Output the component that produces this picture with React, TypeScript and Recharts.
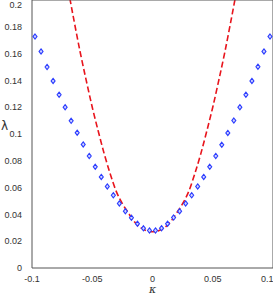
import React from 'react';
import { ComposedChart, Line, Scatter, XAxis, YAxis, Label } from 'recharts';

// blue markers: kappa / lambda
const kappaPoints = [
  -0.0975, -0.0925, -0.0875, -0.0825, -0.0775, -0.0725, -0.0675, -0.0625, -0.0575, -0.0525,
  -0.0475, -0.0425, -0.0375, -0.0325, -0.0275, -0.0225, -0.0175, -0.0125, -0.0075, -0.0025,
  0.0025, 0.0075, 0.0125, 0.0175, 0.0225, 0.0275, 0.0325, 0.0375, 0.0425, 0.0475,
  0.0525, 0.0575, 0.0625, 0.0675, 0.0725, 0.0775, 0.0825, 0.0875, 0.0925, 0.0975,
];
const lambdaPoints = [
  0.1727, 0.1616, 0.15, 0.1396, 0.1293, 0.12, 0.1098, 0.101, 0.0922, 0.0836,
  0.0755, 0.068, 0.0609, 0.0543, 0.0482, 0.0424, 0.0375, 0.0331, 0.0296, 0.028,
  0.028, 0.0297, 0.0331, 0.0376, 0.0424, 0.0482, 0.0543, 0.0609, 0.068, 0.0755,
  0.0836, 0.0919, 0.1008, 0.11, 0.12, 0.1293, 0.1396, 0.1502, 0.1616, 0.1727,
];

// red dashed curve
const kappaCurve = [
  -0.07, -0.065, -0.06, -0.055, -0.05, -0.045, -0.04, -0.035, -0.03, -0.025, -0.02, -0.015, -0.01, -0.005,
  0, 0.005, 0.01, 0.015, 0.02, 0.025, 0.03, 0.035, 0.04, 0.045, 0.05, 0.055, 0.06, 0.065, 0.07,
];
const lambdaCurve = [
  0.208, 0.184, 0.161, 0.14, 0.12, 0.102, 0.085, 0.07, 0.057, 0.048, 0.041, 0.0345, 0.0302, 0.0278,
  0.027, 0.0278, 0.0302, 0.0345, 0.041, 0.048, 0.057, 0.07, 0.085, 0.102, 0.12, 0.14, 0.161, 0.184, 0.208,
];

const xTicks = [-0.1, -0.05, 0, 0.05, 0.1];
const yTicks = [0, 0.02, 0.04, 0.06, 0.08, 0.1, 0.12, 0.14, 0.16, 0.18, 0.2];

const markers = kappaPoints.map((k, i) => ({ k, v: lambdaPoints[i] }));
const curve = kappaCurve.map((k, i) => ({ k, c: lambdaCurve[i] }));

const fmt = (v: number) => String(Number(v.toFixed(2)));

const Diamond = (props: any) => {
  const { cx, cy } = props;
  if (cx == null || cy == null) return null;
  return (
    <polygon
      points={`${cx},${cy - 2.6} ${cx + 2},${cy} ${cx},${cy + 2.6} ${cx - 2},${cy}`}
      fill="#d0d4ff"
      stroke="#2b3cff"
      strokeWidth={1.1}
    />
  );
};

const tickStyle = { fontSize: 9, fill: '#333', fontFamily: 'Liberation Sans, Arial, sans-serif' };

export default function App() {
  return (
    <div style={{ position: 'absolute', left: 0, top: 0, background: '#fff' }}>
      <ComposedChart width={273} height={295} margin={{ top: 0, right: 0, bottom: 0, left: 0 }}>
        <XAxis
          xAxisId="b"
          dataKey="k"
          type="number"
          domain={[-0.1, 0.1]}
          ticks={xTicks}
          tickFormatter={fmt}
          tickLine={false}
          tickMargin={2}
          height={27}
          stroke="#555"
          tick={tickStyle}
        >
          <Label
            value="κ"
            position="insideBottom"
            offset={2}
            fill="#333"
            stroke="none"
            style={{ fontSize: 11, fontStyle: 'italic', fill: '#333', fontFamily: 'DejaVu Serif, serif' }}
          />
        </XAxis>
        <XAxis
          xAxisId="t"
          orientation="top"
          dataKey="k"
          type="number"
          domain={[-0.1, 0.1]}
          ticks={xTicks}
          mirror
          tick={false}
          tickSize={2}
          height={4}
          stroke="#555"
        />
        <YAxis
          yAxisId="l"
          type="number"
          domain={[0, 0.2]}
          allowDataOverflow
          ticks={yTicks}
          tickFormatter={fmt}
          tickLine={false}
          tickMargin={4}
          width={32}
          stroke="#555"
          tick={tickStyle}
        >
          <Label
            value="λ"
            position="insideLeft"
            offset={1}
            dy={-8}
            fill="#333"
            stroke="none"
            style={{ fontSize: 12, fill: '#333', fontFamily: 'DejaVu Sans, sans-serif', textAnchor: 'start' }}
          />
        </YAxis>
        <YAxis
          yAxisId="r"
          orientation="right"
          type="number"
          domain={[0, 0.2]}
          allowDataOverflow
          ticks={yTicks}
          mirror
          tick={false}
          tickSize={3}
          width={3}
          stroke="#555"
        />
        <Line
          xAxisId="t"
          yAxisId="r"
          data={curve}
          dataKey="c"
          type="monotone"
          stroke="#e8141c"
          strokeWidth={1.6}
          strokeDasharray="6 3"
          dot={false}
          isAnimationActive={false}
        />
        <Scatter
          xAxisId="b"
          yAxisId="l"
          data={markers}
          dataKey="v"
          shape={<Diamond />}
          isAnimationActive={false}
        />
      </ComposedChart>
    </div>
  );
}
